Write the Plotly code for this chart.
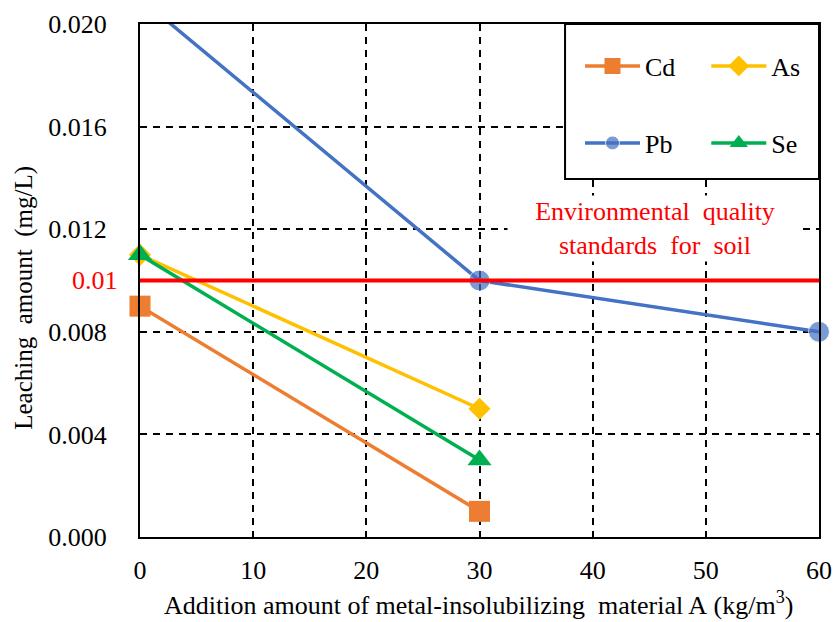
import plotly.graph_objects as go

x_vals = [0, 30, 60]
cd = [0.009, 0.001]
as_ = [0.011, 0.005]
pb = [0.021, 0.010, 0.008]
se = [0.011, 0.003]
standard = 0.01
y_ticks = [0.000, 0.004, 0.008, 0.012, 0.016, 0.020]
x_ticks = [0, 10, 20, 30, 40, 50, 60]

FONT = "Liberation Serif"
NB = "\u00a0"
fig = go.Figure()

fig.add_trace(go.Scatter(x=x_vals[:2], y=cd, name="Cd", mode="lines+markers",
                         line=dict(color="#ED7D31", width=3.5),
                         marker=dict(symbol="square", size=21, color="#ED7D31"),
                         cliponaxis=False, legend="legend"))
fig.add_trace(go.Scatter(x=x_vals[:2], y=as_, name="As", mode="lines+markers",
                         line=dict(color="#FFC000", width=3.5),
                         marker=dict(symbol="diamond", size=17, color="#FFC000"),
                         cliponaxis=False, legend="legend2"))
fig.add_trace(go.Scatter(x=x_vals, y=pb, name="Pb", mode="lines+markers",
                         line=dict(color="#4472C4", width=3.5),
                         marker=dict(symbol="circle", size=[0, 21, 21], color="#4472C4"),
                         cliponaxis=False, legend="legend3"))
fig.add_trace(go.Scatter(x=x_vals[:2], y=se, name="Se", mode="lines+markers",
                         line=dict(color="#00B050", width=3.5),
                         marker=dict(symbol="triangle-up", size=21, color="#00B050"),
                         cliponaxis=False, legend="legend4"))

# standard line
fig.add_shape(type="line", xref="x domain", yref="y", x0=0, x1=1, y0=standard, y1=standard,
              line=dict(color="#FF0000", width=4), layer="above")
# legend box
fig.add_shape(type="rect", xref="x domain", yref="y domain", x0=0.626, x1=1, y0=0.698, y1=1,
              fillcolor="white", line=dict(color="black", width=2), layer="above")

fig.add_annotation(xref="x", yref="y", x=45.5, y=0.01201,
                   text="Environmental" + NB + " quality<br>standards" + NB + " for" + NB + " soil",
                   showarrow=False, font=dict(family=FONT, size=26, color="#FF0000"),
                   bgcolor="white", width=292, align="center")
fig.add_annotation(xref="x domain", yref="y", x=0, y=standard, xanchor="right", yanchor="middle",
                   xshift=-20, text="0.01", showarrow=False,
                   font=dict(family=FONT, size=26, color="#FF0000"))
fig.add_annotation(xref="paper", yref="paper", x=-0.171, y=0.466, textangle=-90,
                   xanchor="center", yanchor="middle",
                   text="Leaching" + NB + " amount" + NB + " (mg/L)", showarrow=False,
                   font=dict(family=FONT, size=25, color="black"))
fig.add_annotation(xref="paper", yref="paper", x=0.498, y=-0.1306, xanchor="center", yanchor="middle",
                   text="Addition amount of metal-insolubilizing" + NB + " material A" + NB + "(kg/m<sup>3</sup>)",
                   showarrow=False, font=dict(family=FONT, size=26, color="black"))

axis_common = dict(showline=True, mirror=True, linecolor="black", linewidth=2,
                   showgrid=True, gridcolor="black", gridwidth=1.5, griddash="7px,6px",
                   zeroline=False, ticks="", automargin=False,
                   tickfont=dict(family=FONT, size=26, color="black"))

fig.update_xaxes(range=[0, 60], tickvals=x_ticks, ticklabelstandoff=9, **axis_common)
fig.update_yaxes(range=[0, 0.020], tickvals=y_ticks, tickformat=".3f", ticklabelstandoff=26,
                 **axis_common)

legend_common = dict(orientation="v", bgcolor="rgba(0,0,0,0)", borderwidth=0,
                     font=dict(family=FONT, size=26, color="black"),
                     xanchor="left", yanchor="middle", itemwidth=55, tracegroupgap=0)
fig.update_layout(
    width=833, height=622,
    margin=dict(l=140, r=14, t=24, b=85),
    plot_bgcolor="white", paper_bgcolor="white",
    showlegend=True,
    legend=dict(x=0.648, y=0.918, **legend_common),
    legend2=dict(x=0.834, y=0.918, **legend_common),
    legend3=dict(x=0.648, y=0.768, **legend_common),
    legend4=dict(x=0.834, y=0.768, **legend_common),
)

fig.write_html("out.html", config={"displayModeBar": False},
               post_script="document.body.style.margin='0px';")
